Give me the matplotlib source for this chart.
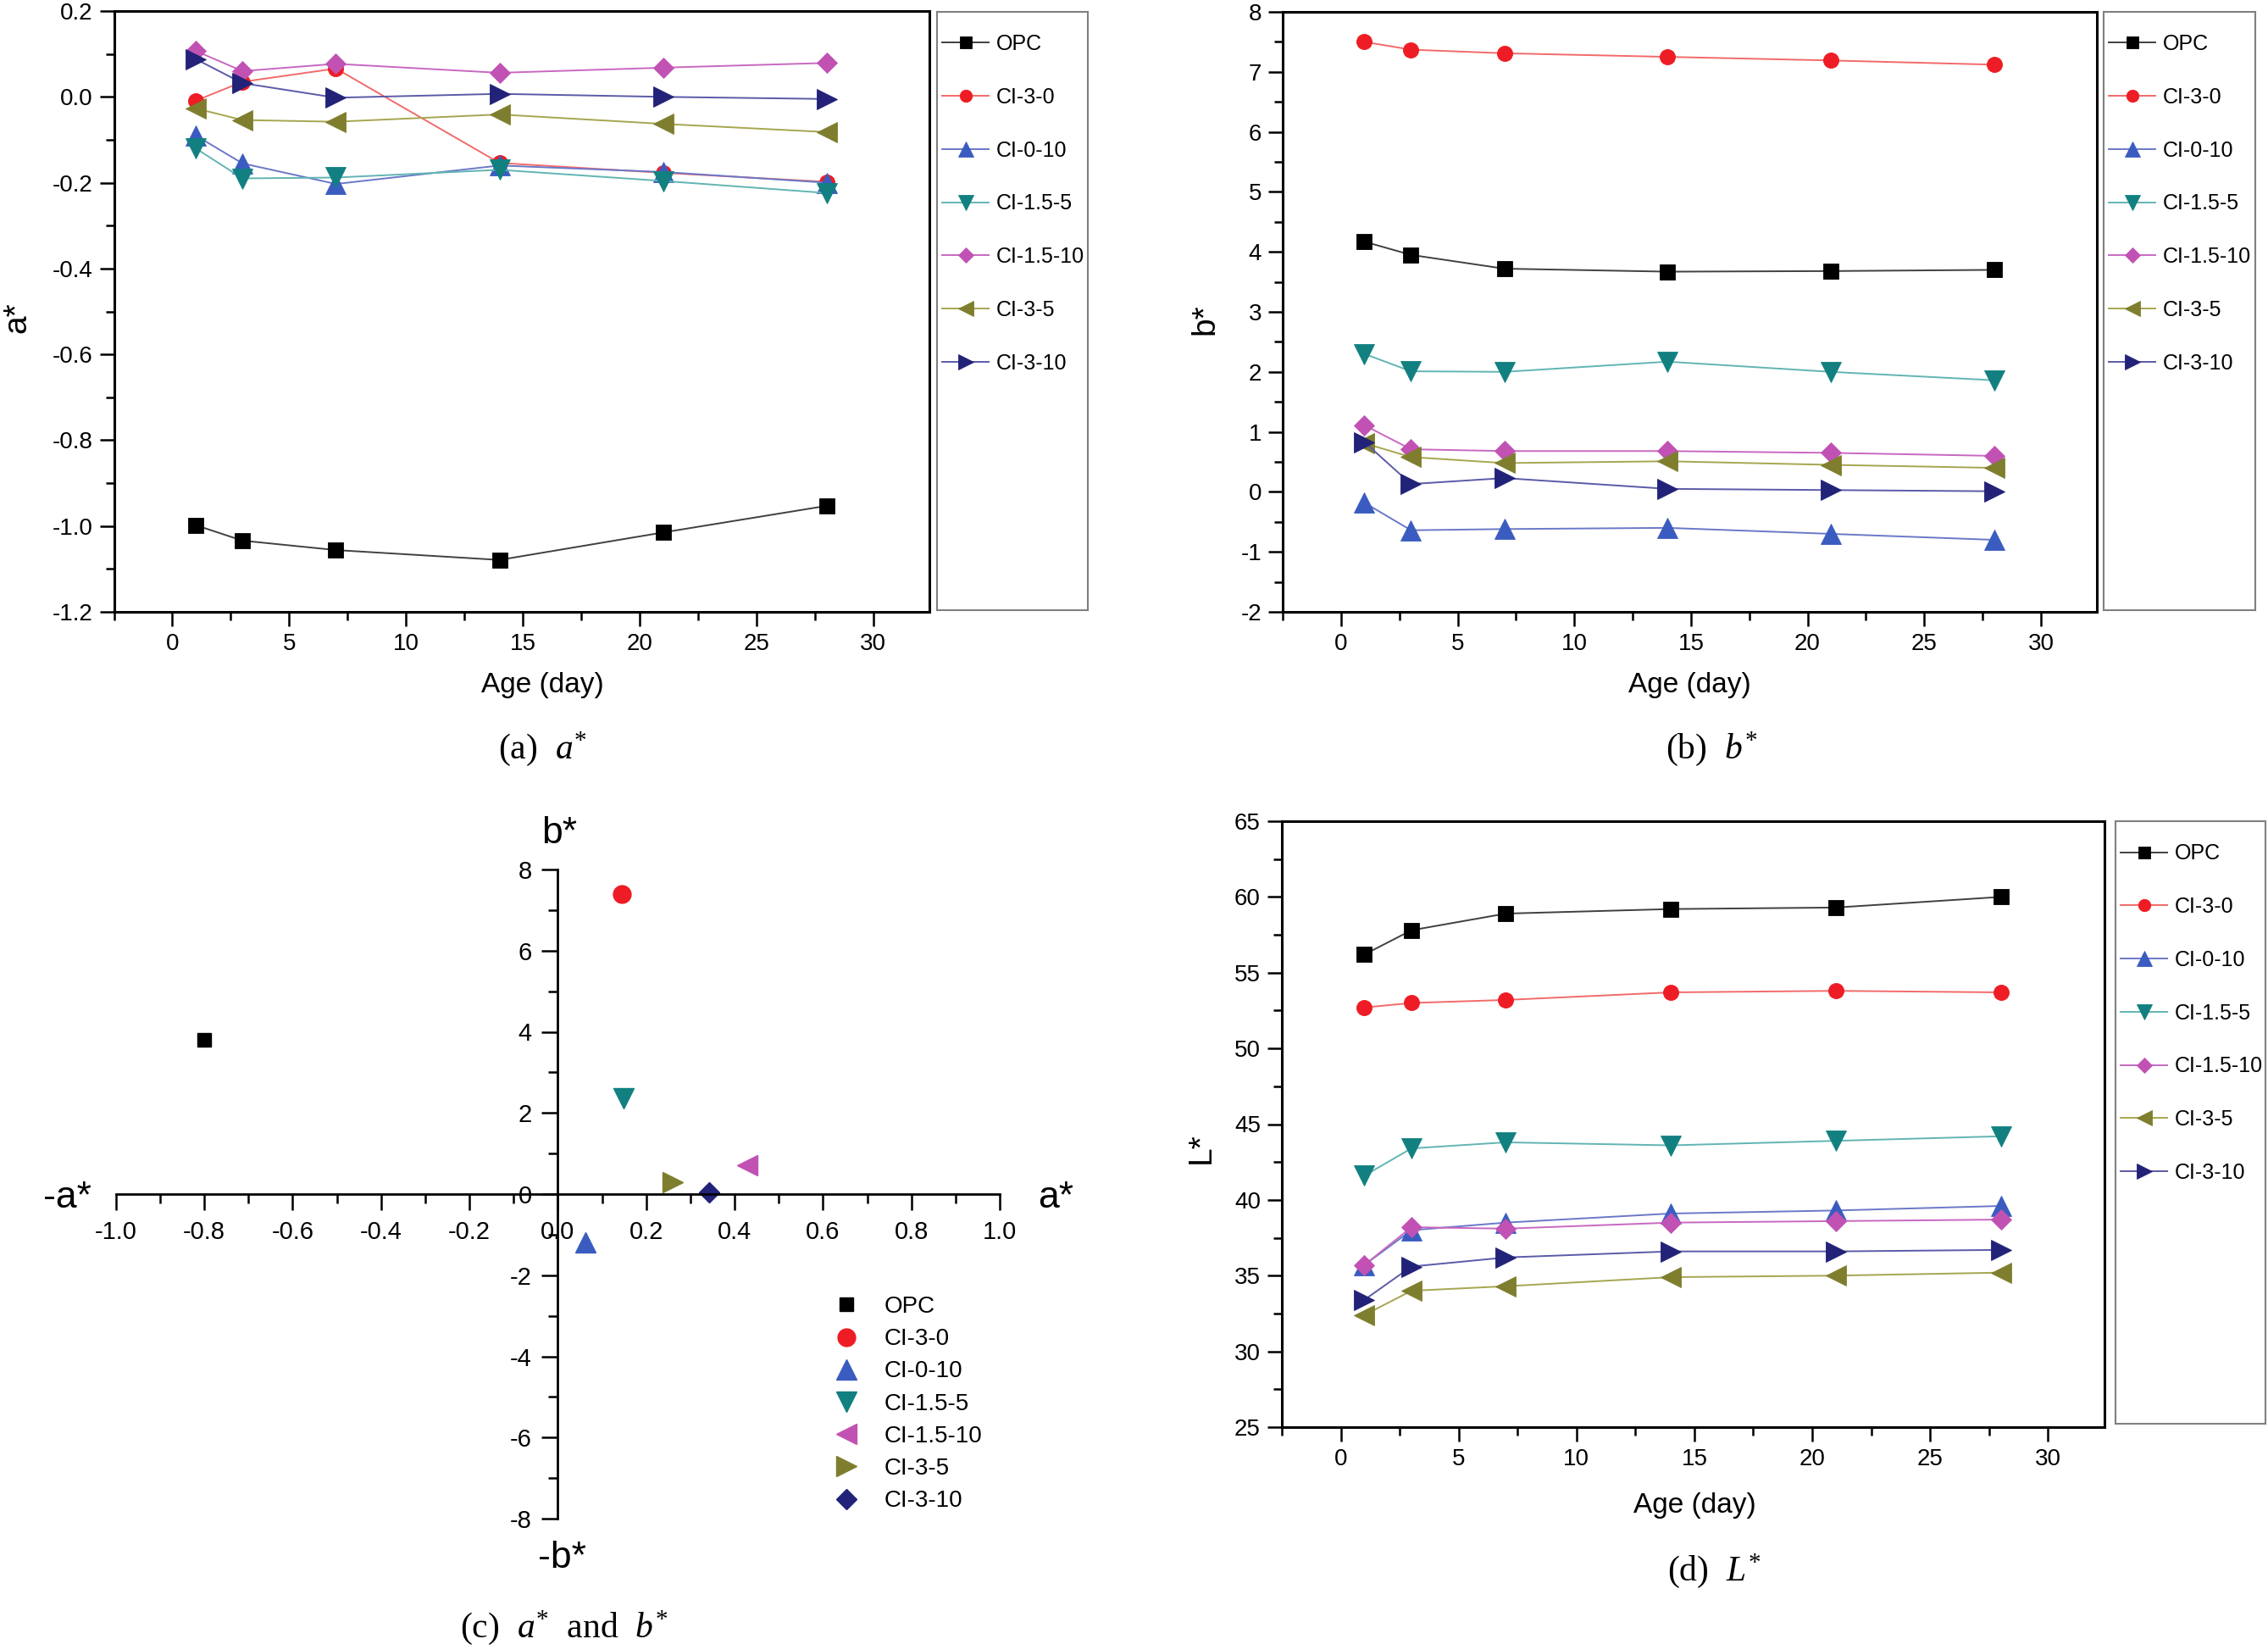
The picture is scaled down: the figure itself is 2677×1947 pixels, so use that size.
# -*- coding: utf-8 -*-
import matplotlib.pyplot as plt
from matplotlib.ticker import MultipleLocator, FormatStrFormatter

plt.rcParams['font.family'] = ['Liberation Sans', 'DejaVu Sans']
plt.rcParams['axes.unicode_minus'] = False
plt.rcParams['mathtext.fontset'] = 'custom'
plt.rcParams['mathtext.rm'] = 'Liberation Serif'
plt.rcParams['mathtext.it'] = 'Liberation Serif:italic'

W, H = 2677, 1947

age = [1, 3, 7, 14, 21, 28]
mixes = ['OPC', 'CI-3-0', 'CI-0-10', 'CI-1.5-5', 'CI-1.5-10', 'CI-3-5', 'CI-3-10']

# rows follow the order of mixes
a_star = [
    [-0.998, -1.034, -1.056, -1.079, -1.015, -0.953],
    [-0.009, 0.035, 0.066, -0.154, -0.177, -0.198],
    [-0.090, -0.155, -0.203, -0.160, -0.175, -0.200],
    [-0.120, -0.190, -0.188, -0.170, -0.196, -0.224],
    [0.107, 0.060, 0.077, 0.056, 0.068, 0.079],
    [-0.027, -0.054, -0.058, -0.041, -0.063, -0.082],
    [0.088, 0.032, -0.002, 0.007, 0.000, -0.005],
]
b_star = [
    [4.17, 3.95, 3.72, 3.67, 3.68, 3.70],
    [7.50, 7.37, 7.31, 7.25, 7.19, 7.12],
    [-0.18, -0.64, -0.62, -0.60, -0.70, -0.80],
    [2.30, 2.01, 2.00, 2.17, 2.00, 1.86],
    [1.11, 0.71, 0.68, 0.68, 0.65, 0.60],
    [0.81, 0.58, 0.48, 0.51, 0.45, 0.40],
    [0.83, 0.13, 0.23, 0.05, 0.03, 0.01],
]
L_star = [
    [56.2, 57.8, 58.9, 59.2, 59.3, 60.0],
    [52.7, 53.0, 53.2, 53.7, 53.8, 53.7],
    [35.7, 38.0, 38.5, 39.1, 39.3, 39.6],
    [41.6, 43.4, 43.8, 43.6, 43.9, 44.2],
    [35.7, 38.2, 38.1, 38.5, 38.6, 38.7],
    [32.4, 34.0, 34.3, 34.9, 35.0, 35.2],
    [33.4, 35.6, 36.2, 36.6, 36.6, 36.7],
]
# (c) position of each mix in the a*-b* plane
plane_a = [-0.80, 0.145, 0.062, 0.148, 0.428, 0.26, 0.343]
plane_b = [3.80, 7.40, -1.20, 2.35, 0.72, 0.29, 0.04]

colors = ['#000000', '#ee1c24', '#3a5cc0', '#128080', '#c152b4', '#7e7e2e', '#222278']
line_colors = ['#404040', '#f26a6a', '#6a78c8', '#62b4b4', '#c868c0', '#a6a650', '#5a5aa8']
markers = ['s', 'o', '^', 'v', 'D', '<', '>']
msizes = [12.5, 13, 17, 17, 12, 17, 17]
plane_markers = ['s', 'o', '^', 'v', '<', '>', 'D']
plane_colors = ['#000000', '#ee1c24', '#3a5cc0', '#128080', '#c152b4', '#7e7e2e', '#222278']
plane_sizes = [12, 15, 17, 17, 17, 17, 12.5]


def box(l, t, r, b):
    return [l / W, 1 - b / H, (r - l) / W, (b - t) / H]


def ftext(x, y, s, **kw):
    fig.text(x / W, 1 - y / H, s, **kw)


def age_panel(ax, legax, values, ylim, major, minor, fmt):
    handles = []
    for i, name in enumerate(mixes):
        h, = ax.plot(age, values[i], marker=markers[i], ms=msizes[i],
                     color=line_colors[i], mfc=colors[i], mec=colors[i],
                     mew=0.6, lw=1.4, label=name)
        handles.append(h)
    ax.set_xlim(-2.5, 32.4)
    ax.set_ylim(*ylim)
    ax.xaxis.set_major_locator(MultipleLocator(5))
    ax.xaxis.set_minor_locator(MultipleLocator(2.5))
    ax.yaxis.set_major_locator(MultipleLocator(major))
    ax.yaxis.set_minor_locator(MultipleLocator(minor))
    ax.yaxis.set_major_formatter(FormatStrFormatter(fmt))
    ax.tick_params(which='both', direction='out', top=False, right=False,
                   width=1.8, labelsize=20, pad=6)
    ax.tick_params(which='major', length=12)
    ax.tick_params(which='minor', length=7)
    for sp in ax.spines.values():
        sp.set_linewidth(2.2)

    legax.set_xticks([])
    legax.set_yticks([])
    for sp in legax.spines.values():
        sp.set_linewidth(1.5)
        sp.set_color('#808080')
    legax.legend(handles, mixes, loc='upper left', bbox_to_anchor=(0.034, 0.963),
                 frameon=False, fontsize=18, handlelength=2.2,
                 handletextpad=0.36, labelspacing=1.55, borderpad=0,
                 borderaxespad=0, markerscale=0.8)


fig = plt.figure(figsize=(W / 100, H / 100), dpi=100)

ax_a = fig.add_axes(box(134.5, 13, 1097, 722))
leg_a = fig.add_axes(box(1106, 14, 1284, 720))
ax_b = fig.add_axes(box(1514, 14, 2475, 722))
leg_b = fig.add_axes(box(2483, 14, 2662, 720))
ax_d = fig.add_axes(box(1513, 969, 2484, 1684))
leg_d = fig.add_axes(box(2497, 969, 2674, 1680))
ax_c = fig.add_axes(box(136.8, 1026, 1180, 1792))

age_panel(ax_a, leg_a, a_star, (-1.2, 0.2), 0.2, 0.1, '%.1f')
age_panel(ax_b, leg_b, b_star, (-2, 8), 1, 0.5, '%d')
age_panel(ax_d, leg_d, L_star, (25, 65), 5, 2.5, '%d')

# (c) a*-b* plane
for i, name in enumerate(mixes):
    ax_c.plot(plane_a[i], plane_b[i], ls='none', marker=plane_markers[i],
              ms=plane_sizes[i], color=plane_colors[i], mec=plane_colors[i],
              label=name)
ax_c.set_xlim(-1, 1)
ax_c.set_ylim(-8, 8)
ax_c.spines['left'].set_position('zero')
ax_c.spines['bottom'].set_position('zero')
ax_c.spines['top'].set_visible(False)
ax_c.spines['right'].set_visible(False)
for sp in ('left', 'bottom'):
    ax_c.spines[sp].set_linewidth(2.0)
ax_c.xaxis.set_major_locator(MultipleLocator(0.2))
ax_c.xaxis.set_minor_locator(MultipleLocator(0.1))
ax_c.yaxis.set_major_locator(MultipleLocator(2))
ax_c.yaxis.set_minor_locator(MultipleLocator(1))
ax_c.xaxis.set_major_formatter(FormatStrFormatter('%.1f'))
ax_c.yaxis.set_major_formatter(FormatStrFormatter('%d'))
ax_c.tick_params(which='both', direction='out', width=1.8, labelsize=21, pad=8)
ax_c.tick_params(which='major', length=14)
ax_c.tick_params(which='minor', length=8)
ax_c.legend(loc='upper left', bbox_to_anchor=(980 / W, 1 - 1529 / H),
            bbox_transform=fig.transFigure, frameon=False, fontsize=20,
            handlelength=1.4, handletextpad=0.9, labelspacing=0.44,
            borderpad=0, borderaxespad=0)

# axis titles
ftext(20, 375, 'a*', rotation=90, ha='center', va='center', fontsize=28)
ftext(1422, 377, 'b*', rotation=90, ha='center', va='center', fontsize=28)
ftext(1418, 1355, 'L*', rotation=90, ha='center', va='center', fontsize=28)
ftext(640, 809, 'Age (day)', ha='center', va='center', fontsize=24)
ftext(1994, 809, 'Age (day)', ha='center', va='center', fontsize=24)
ftext(2000, 1776, 'Age (day)', ha='center', va='center', fontsize=24)

ftext(79, 1425, '-a*', ha='center', va='baseline', fontsize=32)
ftext(1246, 1425, 'a*', ha='center', va='baseline', fontsize=32)
ftext(660, 995, 'b*', ha='center', va='baseline', fontsize=32)
ftext(663, 1850, '-b*', ha='center', va='baseline', fontsize=32)

# captions
cap = dict(ha='center', va='center', fontsize=30, family='Liberation Serif')
ftext(640, 884, r'(a)  $a^{*}$', **cap)
ftext(2020, 884, r'(b)  $b^{*}$', **cap)
ftext(666, 1921, r'(c)  $a^{*}$  and  $b^{*}$', **cap)
ftext(2023, 1854, r'(d)  $L^{*}$', **cap)

fig.savefig('out.png', dpi=100)
